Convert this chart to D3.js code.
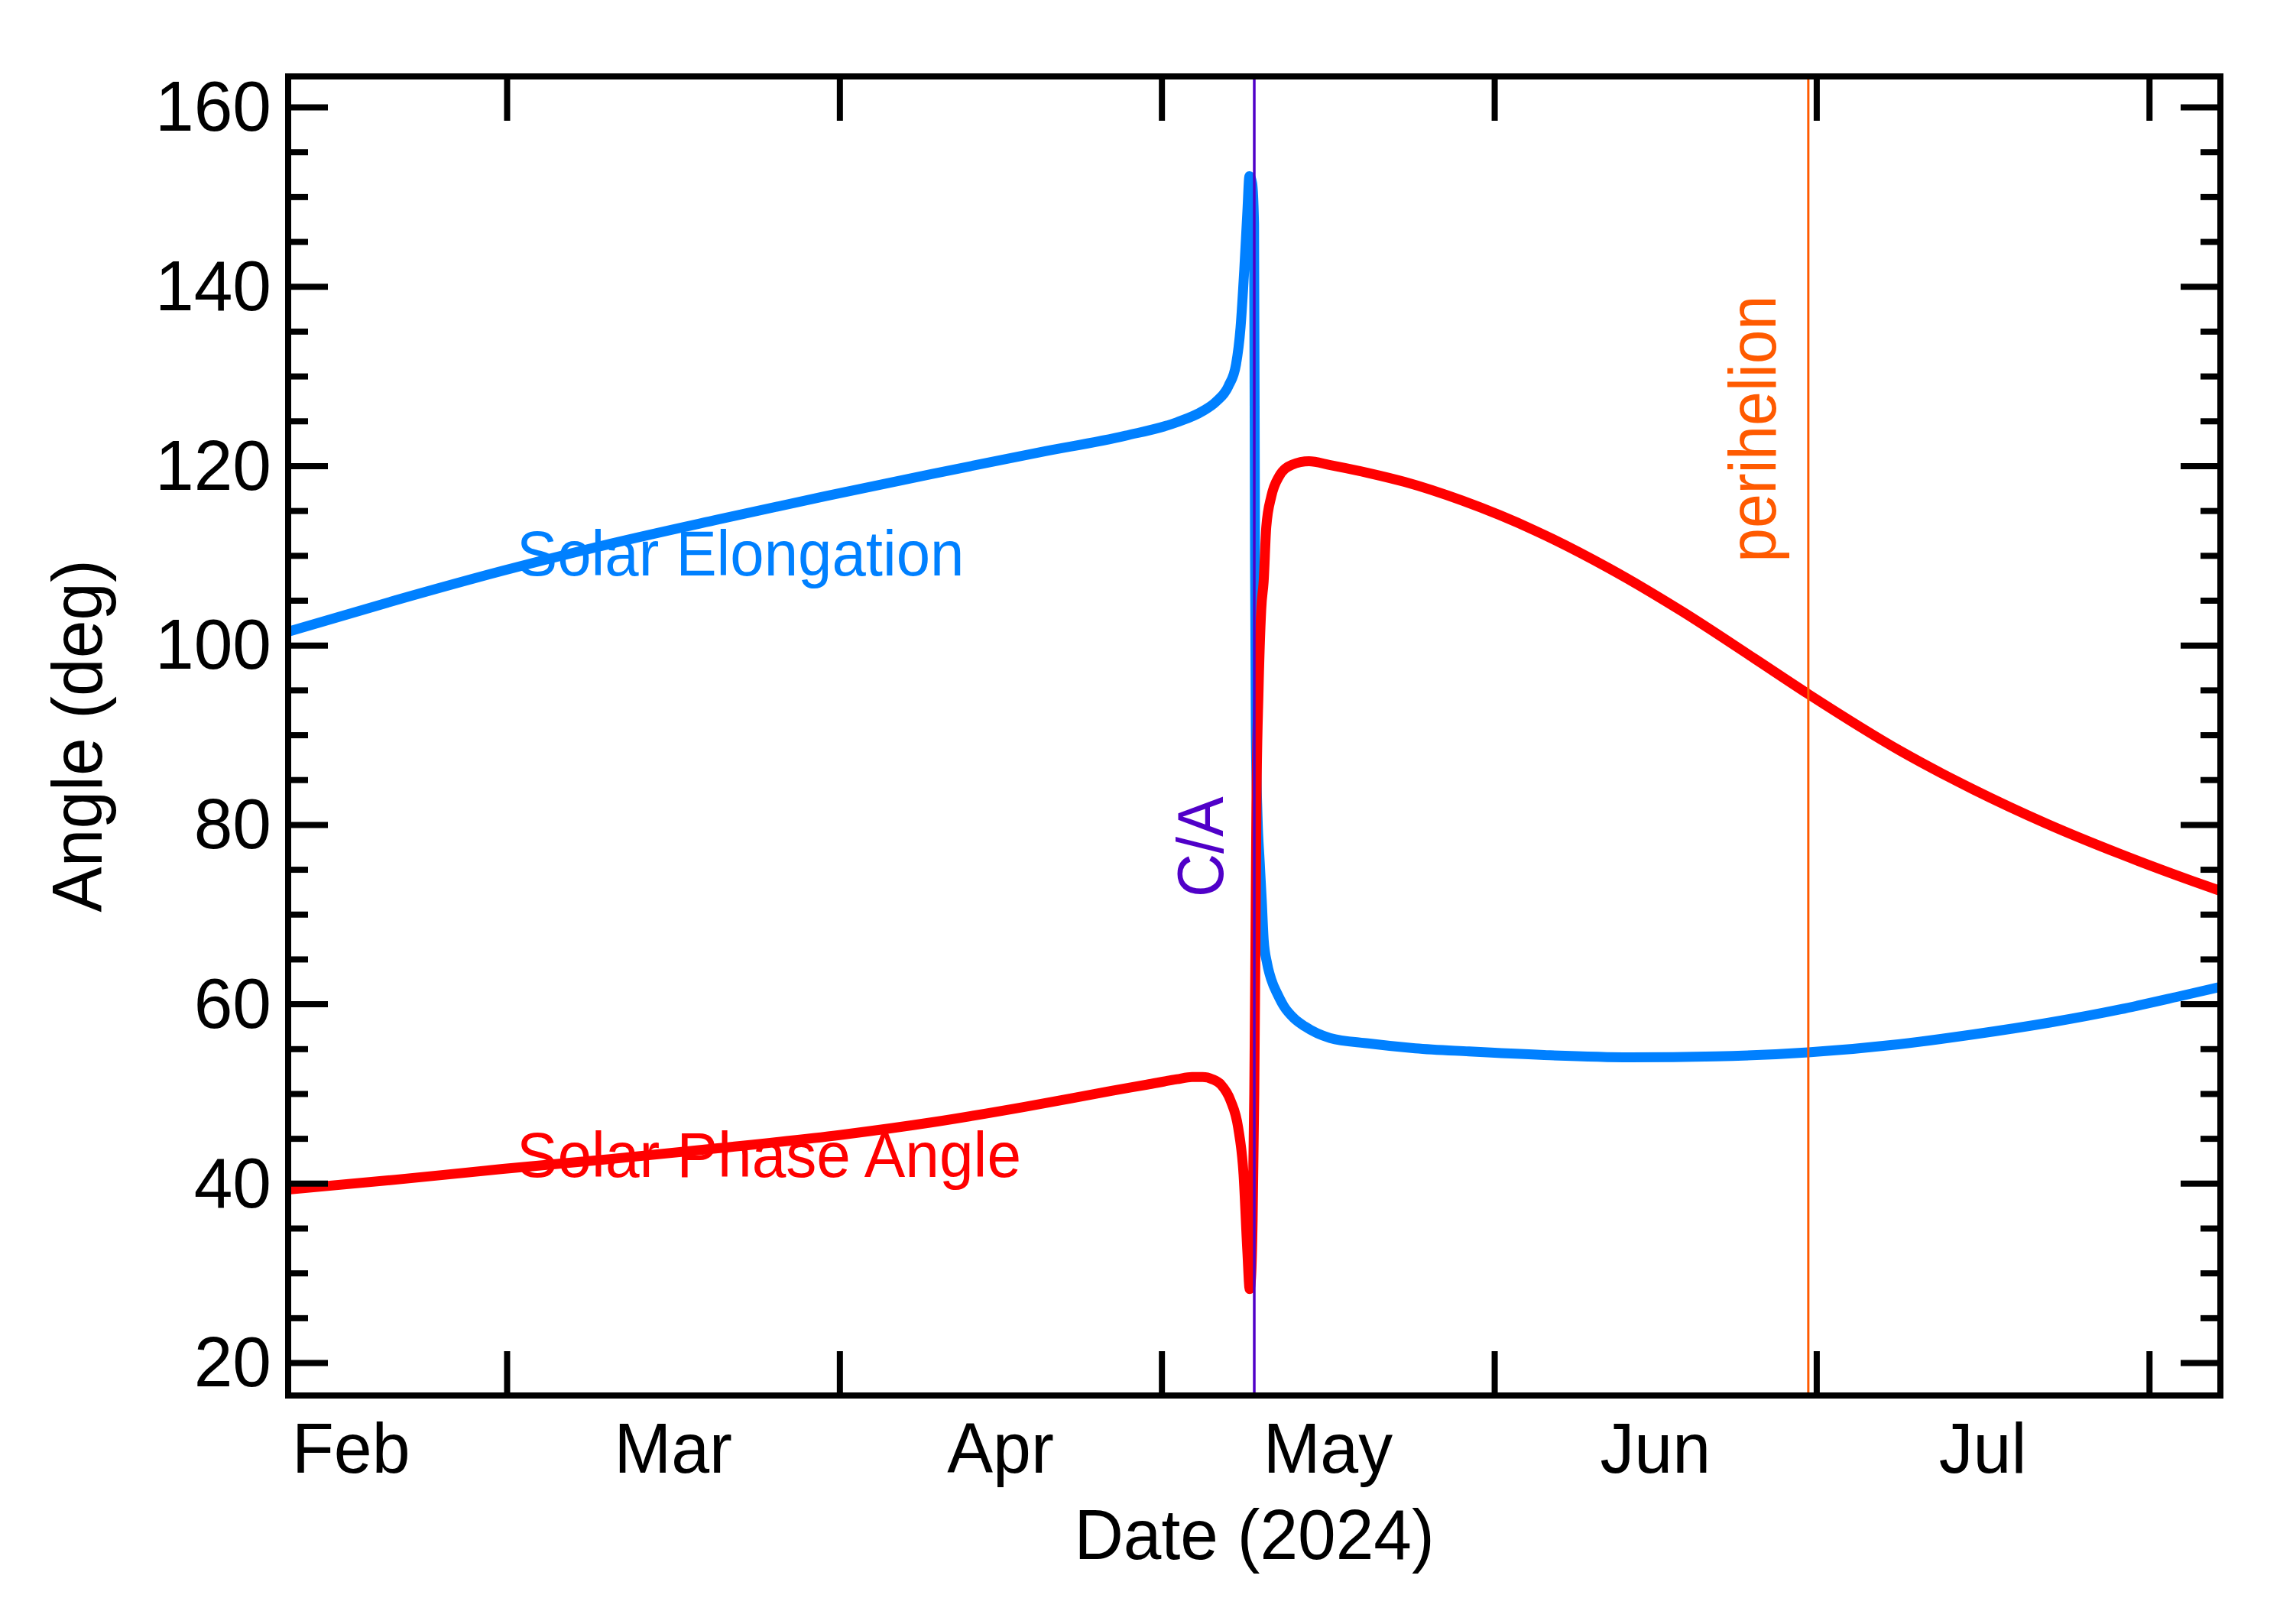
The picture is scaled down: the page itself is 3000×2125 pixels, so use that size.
<!DOCTYPE html>
<html><head><meta charset="utf-8">
<script src="https://cdn.jsdelivr.net/npm/d3@7"></script>
<style>
body{margin:0;background:#fff}
svg{display:block}
text{font-family:"Liberation Sans",Arial,Helvetica,sans-serif}
</style>
</head><body>
<svg id="chart" width="3000" height="2125"></svg>
<script>
// ---------------- data ----------------
const closeApproach = "2024-05-09T15:20:00Z";
const perihelion = "2024-06-30T06:00:00Z";
const windowDays = 90;               // plot spans C/A +/- 90 days
const yDomain = [16.34, 163.41];
const yMajorTicks = [20, 40, 60, 80, 100, 120, 140, 160];
const yMinorStep = 5;
const monthLabels = ["Feb", "Mar", "Apr", "May", "Jun", "Jul"];
const xTitle = "Date (2024)";
const yTitle = "Angle (deg)";

// days relative to closest approach
const elongDays = [-90,-80,-70,-60,-50,-40,-30,-20,-12,-7.2,-4.8,-3.6,-2.4,-1.7,-1.28,-0.93,-0.64,-0.45,-0.2,-0.02,0.07,0.15,0.3,0.5,0.7,0.88,1.2,1.59,2.2,2.78,3.7,4.7,7.05,10.6,15,20,27,35,43,51.6,60,67,74,80.7,86,90];
const elongValues = [101.5,105.0,108.3,111.3,114.0,116.6,119.1,121.5,123.35,124.85,126.1,127.1,128.9,131.3,135.4,141.9,148.4,152.3,151.5,147,110,90,81,76,71.5,67.1,64.5,62.7,61.0,59.7,58.4,57.5,56.2,55.6,55.05,54.7,54.3,54.05,54.15,54.6,55.5,56.6,57.9,59.4,60.8,61.9];

const phaseDays = [-90,-80,-70,-60,-50,-38.5,-30,-21.5,-13.3,-10,-7.2,-5.8,-4.8,-3.9,-3.1,-2.2,-1.5,-1.0,-0.64,-0.43,-0.3,-0.15,0,0.1,0.2,0.4,0.65,0.88,1.12,1.59,2.3,3.5,5.1,7,10.6,14,19.4,26.2,33,39.8,46.6,51.6,60.2,67,73.8,80.6,87.4,90];
const phaseValues = [39.3,40.4,41.6,42.7,43.9,45.4,46.8,48.5,50.3,51.0,51.6,51.85,51.85,51.6,51.0,49.2,46.2,41.0,32.3,28.2,29.5,36,50,65,82,95,104,107.2,113.2,116.6,118.8,120.1,120.5,120.1,119.2,118.2,116.1,112.75,108.6,103.8,98.5,94.55,88.2,83.9,80.1,76.75,73.7,72.6];

// ---------------- layout ----------------
const M = {left: 377, right: 2905, top: 100, bottom: 1826};
const DAY = 864e5;
const ca = new Date(closeApproach);
const peri = new Date(perihelion);
const toDate = d => new Date(ca.getTime() + d * DAY);

const x = d3.scaleUtc().domain([toDate(-windowDays), toDate(windowDays)]).range([M.left, M.right]);
const y = d3.scaleLinear().domain(yDomain).range([M.bottom, M.top]);

const svg = d3.select("#chart");
svg.append("rect").attr("width", 3000).attr("height", 2125).attr("fill", "#fff");

svg.append("clipPath").attr("id", "clip").append("rect")
  .attr("x", M.left).attr("y", M.top).attr("width", M.right - M.left).attr("height", M.bottom - M.top);

const plot = svg.append("g").attr("clip-path", "url(#clip)");

const line = d3.line().x(d => x(d[0])).y(d => y(d[1])).curve(d3.curveMonotoneX);
const elong = elongDays.map((d, i) => [toDate(d), elongValues[i]]);
const phase = phaseDays.map((d, i) => [toDate(d), phaseValues[i]]);

plot.append("path").datum(elong).attr("d", line)
  .attr("fill", "none").attr("stroke", "#0080FF").attr("stroke-width", 13).attr("stroke-linejoin", "round");
plot.append("path").datum(phase).attr("d", line)
  .attr("fill", "none").attr("stroke", "#FF0000").attr("stroke-width", 13).attr("stroke-linejoin", "round");

// vertical markers
plot.append("line").attr("x1", x(ca)).attr("x2", x(ca)).attr("y1", M.top).attr("y2", M.bottom)
  .attr("stroke", "#5000C8").attr("stroke-width", 3.5);
plot.append("line").attr("x1", x(peri)).attr("x2", x(peri)).attr("y1", M.top).attr("y2", M.bottom)
  .attr("stroke", "#FF5A00").attr("stroke-width", 3);

// ---------------- axes (ticks inside the frame) ----------------
const monthTicks = d3.utcMonth.range(d3.utcMonth.ceil(x.domain()[0]), x.domain()[1]);
const styleAxis = g => { g.select(".domain").remove(); g.selectAll("line").attr("stroke", "#000").attr("stroke-width", 8); g.selectAll("text").remove(); };

svg.append("g").attr("transform", `translate(0,${M.bottom})`)
  .call(d3.axisTop(x).tickValues(monthTicks).tickSize(58).tickFormat("")).call(styleAxis);
svg.append("g").attr("transform", `translate(0,${M.top})`)
  .call(d3.axisBottom(x).tickValues(monthTicks).tickSize(58).tickFormat("")).call(styleAxis);

const minorVals = d3.range(20, yDomain[1], yMinorStep).filter(v => !yMajorTicks.includes(v));
svg.append("g").attr("transform", `translate(${M.left},0)`)
  .call(d3.axisRight(y).tickValues(yMajorTicks).tickSize(52).tickFormat("")).call(styleAxis);
svg.append("g").attr("transform", `translate(${M.left},0)`)
  .call(d3.axisRight(y).tickValues(minorVals).tickSize(26).tickFormat("")).call(styleAxis);
svg.append("g").attr("transform", `translate(${M.right},0)`)
  .call(d3.axisLeft(y).tickValues(yMajorTicks).tickSize(52).tickFormat("")).call(styleAxis);
svg.append("g").attr("transform", `translate(${M.right},0)`)
  .call(d3.axisLeft(y).tickValues(minorVals).tickSize(26).tickFormat("")).call(styleAxis);

// frame
svg.append("rect").attr("x", M.left).attr("y", M.top).attr("width", M.right - M.left).attr("height", M.bottom - M.top)
  .attr("fill", "none").attr("stroke", "#000").attr("stroke-width", 8);

// tick labels
svg.append("g").selectAll("text").data(yMajorTicks).join("text")
  .attr("transform", v => `translate(355,${y(v)}) scale(0.99,1)`)
  .attr("dy", "0.34em").attr("text-anchor", "end").attr("font-size", 92).attr("fill", "#000")
  .text(v => v);

const monthStarts = d3.utcMonth.range(d3.utcMonth.floor(x.domain()[0]), x.domain()[1]);
svg.append("g").selectAll("text").data(monthStarts).join("text")
  .attr("transform", m => {
    const next = d3.utcMonth.offset(m, 1);
    const mid = new Date((m.getTime() + next.getTime()) / 2);
    return `translate(${x(mid)},1927) scale(0.975,1)`;
  })
  .attr("text-anchor", "middle").attr("font-size", 92).attr("fill", "#000")
  .text((m, i) => monthLabels[i]);

// axis titles
svg.append("text").attr("transform", `translate(${(M.left + M.right) / 2},2040) scale(0.97,1)`)
  .attr("text-anchor", "middle").attr("font-size", 92).text(xTitle);
svg.append("text").attr("transform", `translate(133,${(M.top + M.bottom) / 2}) rotate(-90) scale(0.97,1)`)
  .attr("text-anchor", "middle").attr("font-size", 92).text(yTitle);

// series labels
svg.append("text").attr("transform", `translate(676,753) scale(0.95,1)`)
  .attr("font-size", 84).attr("fill", "#0080FF").text("Solar Elongation");
svg.append("text").attr("transform", `translate(676,1540) scale(0.955,1)`)
  .attr("font-size", 84).attr("fill", "#FF0000").text("Solar Phase Angle");

// marker labels
svg.append("text").attr("transform", `translate(${x(ca) - 41},${y(77.5)}) rotate(-90) scale(0.93,1)`)
  .attr("text-anchor", "middle").attr("font-size", 85).attr("fill", "#5000C8").text("C/A");
svg.append("text").attr("transform", `translate(${x(peri) - 43},${y(124.1)}) rotate(-90) scale(0.925,1)`)
  .attr("text-anchor", "middle").attr("font-size", 87).attr("fill", "#FF5A00").text("perihelion");
</script>
</body></html>
